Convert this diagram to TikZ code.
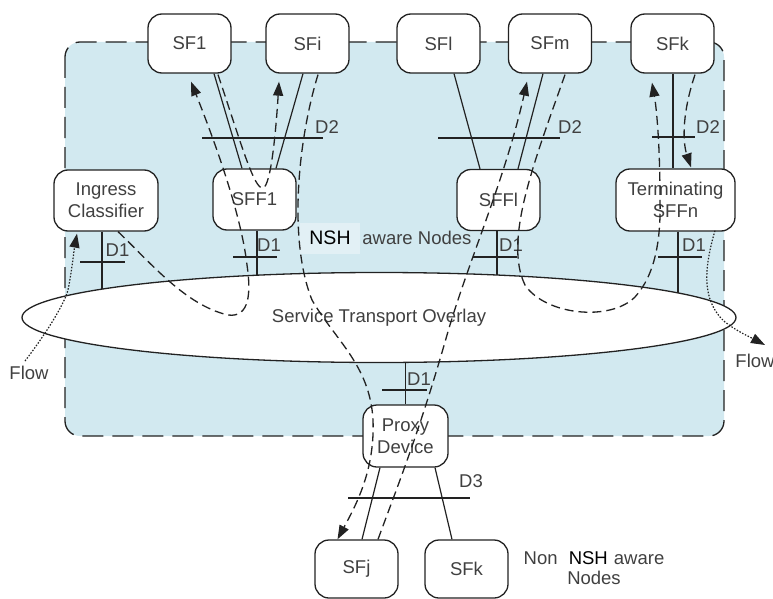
\documentclass[tikz,border=0pt]{standalone}
\usepackage{fontspec}
\setmainfont{Liberation Sans}
\usepackage{tikz}
\usetikzlibrary{arrows.meta,positioning,calc,shapes.geometric}
\definecolor{PaleCyan}{HTML}{D2E9F0}
\definecolor{PaleNSH}{HTML}{E2F0F5}
\definecolor{InkGray}{HTML}{404040}
\definecolor{LineGray}{HTML}{222222}

\begin{document}
\begin{tikzpicture}[x=1pt, y=-1pt, font=\fontsize{18.5}{22}\selectfont, >={Triangle[length=14pt,width=10pt]}]
\tikzset{sfbox/.style={draw=LineGray, line width=1.3pt, rounded corners=14pt, fill=white, align=center, text=InkGray, inner sep=1pt, minimum width=83pt, minimum height=59pt}, link/.style={draw=LineGray, line width=1.2pt}, svc/.style={draw=LineGray, line width=1.3pt, dash pattern=on 9pt off 5pt}, flowline/.style={draw=LineGray, line width=1.2pt, dash pattern=on 1.5pt off 1.6pt}, lbl/.style={text=InkGray, inner sep=1pt}, transport/.style={ellipse, draw=LineGray, line width=1.3pt, fill=white, minimum width=714pt, minimum height=90pt, inner sep=0pt}, nshtag/.style={fill=PaleNSH, text=black, font=\fontsize{19.5}{21}\selectfont, minimum width=60pt, minimum height=31pt, inner sep=0pt}}
\useasboundingbox (0,0) rectangle (773,599);
% NSH aware domain
\draw[draw=LineGray, line width=1.3pt, fill=PaleCyan, rounded corners=15pt, dash pattern=on 21pt off 9pt] (65,42) rectangle (724,436);
% service functions and forwarders
\foreach \name/\x/\label in {sfone/189.5/SF1, sfi/307.5/SFi, sfl/438.5/SFl, sfm/550/SFm, sfk/672.5/SFk}
  \node[sfbox] (\name) at (\x,43.5) {\label};
\node[sfbox, minimum width=104pt, minimum height=61pt] (ingress) at (106,200.5) {Ingress\\Classifier};
\node[sfbox, minimum height=61pt] (sffone) at (254.5,199.5) {SFF1};
\node[sfbox, minimum height=61pt] (sffl) at (498.5,200) {SFFl};
\node[sfbox, minimum width=119pt, minimum height=62pt] (termsff) at (675.5,200) {Terminating\\SFFn};
\node[sfbox, minimum width=85pt, minimum height=62pt] (proxy) at (405.5,436) {Proxy\\Device};
\node[sfbox, minimum height=58pt] (sfj) at (356.5,569) {SFj};
\node[sfbox, minimum height=58pt] (nsfk) at (466.5,569) {SFk};
% attachments
\draw[link] ($(sfone.south)+(24.5,0)$) -- ($(sffone.north)+(-12.5,0)$);
\draw[link] ($(sfi.south)+(-4.5,0)$) -- ($(sffone.north)+(21.5,0)$);
\draw[link] ($(sfl.south)+(15.5,0)$) -- ($(sffl.north)+(-18.5,0)$);
\draw[link] ($(sfm.south)+(-7,0)$) -- ($(sffl.north)+(19.5,0)$);
\draw[link] ($(sfk.south)+(0.5,0)$) -- ($(termsff.north)+(-2.5,0)$);
\draw[link] ($(proxy.south)+(-25.5,0)$) -- ($(sfj.north)+(5.5,0)$);
\draw[link] ($(proxy.south)+(29.5,0)$) -- ($(nsfk.north)+(-14.5,0)$);
\foreach \n/\dx in {ingress/-4, sffone/2.5, sffl/-1.5, termsff/2.5}
  \draw[link] ($(\n.south)+(\dx,0)$) -- ++(0,80);
\draw[link] (proxy.north) -- ++(0,-70);
% transport overlay
\node[transport] (sto) at (379,317.5) {};
\node[lbl] (stolbl) at (379,318) {Service Transport Overlay};
\node[nshtag] (nsh) at (330,238) {NSH};
\node[lbl, right=1pt of nsh] (awarelbl) {aware Nodes};
\node[lbl, align=center, font=\fontsize{18.5}{20}\selectfont] (nonnsh) at (594,568) {Non\hspace{6pt} {\color{black}NSH}\hspace{1pt} aware\\Nodes};
% reference points
\foreach \xa/\xb/\y in {80/125/262, 202/323/138, 233/277/257, 438/560/138, 473/517/257, 652/695/137, 658/702/257, 382/427/390, 348/470/498}
  \draw[link] (\xa,\y) -- (\xb,\y);
\foreach \name/\x/\y/\label in {dingress/117.5/250/D1, dsfa/327/127/D2, dsffone/269/245/D1, dsfb/570/127/D2, dsffl/511/245/D1, dsfk/708/127/D2, dterm/694/245/D1, dproxy/419/379/D1, dlegacy/471/481/D3}
  \node[lbl] (\name) at (\x,\y) {\label};
% flow in and out
\node[lbl] (flowl) at (29,373) {Flow};
\node[lbl] (flowr) at (755,361) {Flow};
\coordinate (flowltail) at (25,361);
\coordinate (flowrtip) at (765,345);
\draw[flowline,->] (flowltail) .. controls (45,335) and (64,305) .. (68,290) .. controls (72,270) and (74,250) .. ($(ingress.south)+(-29,2)$);
\draw[flowline,->] ($(termsff.south)+(39.5,-1)$) .. controls (705,265) and (700,300) .. (725,322) .. controls (738,332) and (750,337) .. (flowrtip);
% service path
\draw[svc,->] ($(ingress.south)+(12,0)$) .. controls (150,262) and (185,305) .. (228,315) .. controls (250,318) and (251,292) .. (247,265) .. controls (243,230) and (228,175) .. ($(sfone.south)+(1.5,8)$);
\draw[svc,->] ($(sfone.south)+(28.5,1)$) .. controls (240,140) and (254,190) .. (263,188) .. controls (271,186) and (276,130) .. ($(sfi.south)+(-28.5,8)$);
\draw[svc,->] ($(sfi.south)+(10.5,1)$) .. controls (298,140) and (288,240) .. (312,300) .. controls (335,340) and (370,365) .. (373,420) .. controls (375,470) and (356,505) .. ($(sfj.north)+(-19,0)$);
\draw[svc,->] ($(sfj.north)+(21.5,0)$) .. controls (398,485) and (420,430) .. (447,335) .. controls (468,262) and (505,180) .. ($(sfm.south)+(-23,8)$);
\draw[svc,->] ($(sfm.south)+(15,1)$) .. controls (535,160) and (503,240) .. (525,285) .. controls (545,315) and (610,322) .. (635,297) .. controls (655,275) and (661,240) .. (660,200) .. controls (660,140) and (656,105) .. ($(sfk.south)+(-20.5,9)$);
\draw[svc,->] ($(sfk.south)+(22.5,1)$) .. controls (683,110) and (682,140) .. ($(termsff.north)+(15.5,-1)$);
\end{tikzpicture}
\end{document}
